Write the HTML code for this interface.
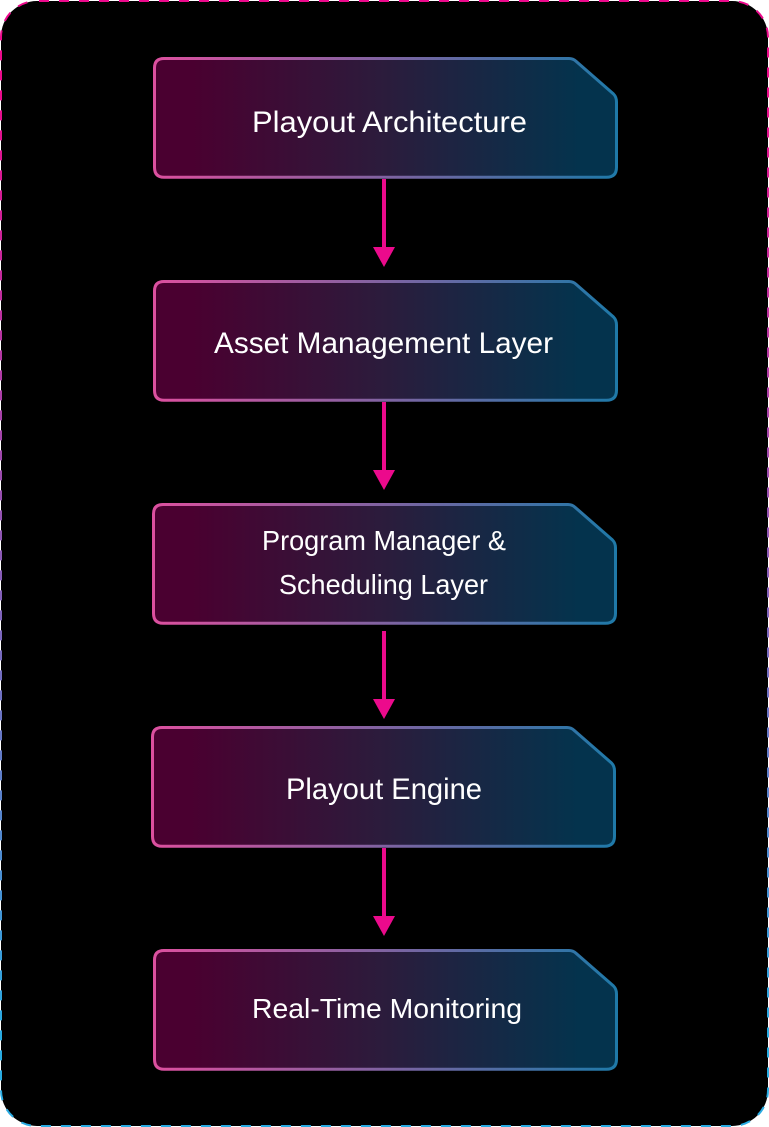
<!DOCTYPE html>
<html><head><meta charset="utf-8">
<style>
html,body{margin:0;padding:0;background:#fff;width:769px;height:1127px;overflow:hidden}
svg{display:block}
text{font-family:"Liberation Sans",sans-serif;fill:#fff;text-anchor:start}
</style></head>
<body>
<svg width="769" height="1127" viewBox="0 0 769 1127" xmlns="http://www.w3.org/2000/svg">
<defs>
<linearGradient id="f" x1="0" y1="0" x2="1" y2="0">
<stop offset="0.08" stop-color="#4a0030"/><stop offset="0.5" stop-color="#2b1c3c"/><stop offset="0.92" stop-color="#04334d"/>
</linearGradient>
<linearGradient id="s" x1="0" y1="0" x2="1" y2="0">
<stop offset="0" stop-color="#dc509f"/><stop offset="0.5" stop-color="#7f63a1"/><stop offset="1" stop-color="#1f79a8"/>
</linearGradient>
<linearGradient id="b" gradientUnits="userSpaceOnUse" x1="0" y1="0" x2="0" y2="1127">
<stop offset="0.08" stop-color="#ec0a8c"/><stop offset="0.92" stop-color="#29abe2"/>
</linearGradient>
<path id="n" d="M11 1.500H416Q420 1.500 423 4.200L460.500 37Q463.500 40 463.500 45V110.300Q463.500 120.300 453.500 120.300H11Q1.500 120.300 1.500 110.300V11Q1.500 1.500 11 1.500Z" fill="url(#f)" stroke="url(#s)" stroke-width="3"/>
</defs>
<rect x="1" y="1" width="767" height="1125" rx="36" fill="#000"/>
<rect x="1" y="1" width="767" height="1125" rx="36" fill="none" stroke="url(#b)" stroke-width="2" stroke-dasharray="10 10" stroke-dashoffset="18"/>

<use href="#n" x="153" y="57"/>
<use href="#n" x="153" y="280"/>
<use href="#n" x="152" y="503"/>
<use href="#n" x="151" y="726"/>
<use href="#n" x="153" y="949"/>

<g fill="#ec0a8c" stroke="none">
<rect x="382" y="179" width="4" height="69"/><path d="M373 247H395L384 267Z"/>
<rect x="382" y="402" width="4" height="69"/><path d="M373 470H395L384 490Z"/>
<rect x="382" y="631" width="4" height="69"/><path d="M373 699H395L384 719Z"/>
<rect x="382" y="848" width="4" height="69"/><path d="M373 916H395L384 936Z"/>
</g>

<text x="252" y="132" font-size="30" textLength="275" lengthAdjust="spacingAndGlyphs">Playout Architecture</text>
<text x="214" y="353" font-size="30" textLength="339" lengthAdjust="spacingAndGlyphs">Asset Management Layer</text>
<text x="262" y="550" font-size="28" textLength="244" lengthAdjust="spacingAndGlyphs">Program Manager &amp;</text>
<text x="279" y="594" font-size="28" textLength="209" lengthAdjust="spacingAndGlyphs">Scheduling Layer</text>
<text x="286" y="799" font-size="30" textLength="196" lengthAdjust="spacingAndGlyphs">Playout Engine</text>
<text x="252" y="1018" font-size="28" textLength="270" lengthAdjust="spacingAndGlyphs">Real-Time Monitoring</text>
</svg>
</body></html>
